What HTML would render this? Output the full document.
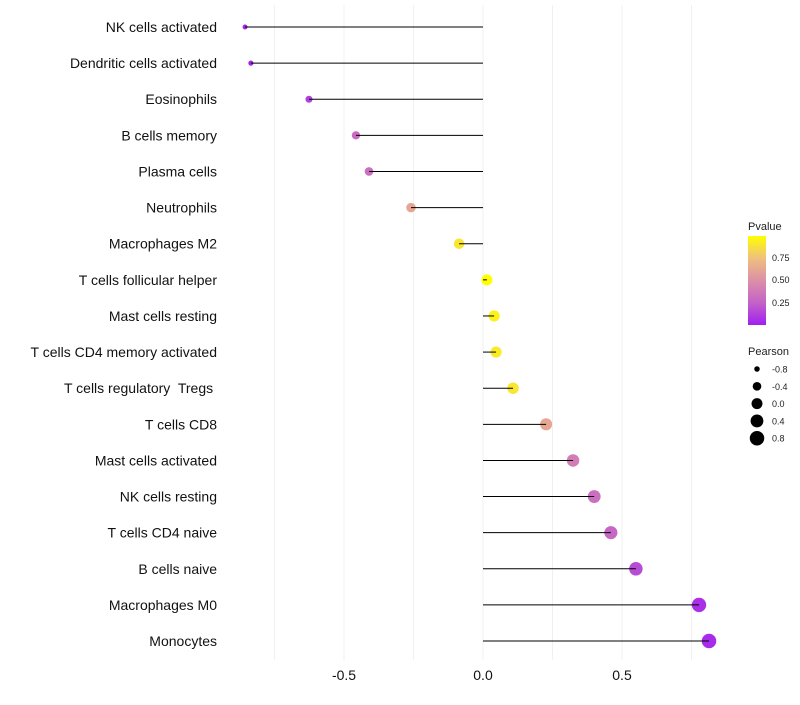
<!DOCTYPE html>
<html><head><meta charset="utf-8"><style>
body{margin:0;background:#fff;font-family:"Liberation Sans",sans-serif}
text{white-space:pre}
</style></head><body>
<svg id="chart" width="800" height="700" xmlns="http://www.w3.org/2000/svg">
<defs><linearGradient id="pg" x1="0" y1="1" x2="0" y2="0">
<stop offset="0" stop-color="#a020f0"/><stop offset="0.25" stop-color="#c462c8"/><stop offset="0.5" stop-color="#dc8fa8"/><stop offset="0.75" stop-color="#efc07e"/><stop offset="1" stop-color="#ffff00"/></linearGradient></defs>
<g id="grid"></g><g id="marks"></g><g id="labels"></g>
<g>
<text x="748" y="230" font-size="11" fill="#222">Pvalue</text>
<rect x="748" y="236" width="18" height="89" fill="url(#pg)"/>
<text x="772" y="261" font-size="9" fill="#222">0.75</text>
<text x="772" y="283" font-size="9" fill="#222">0.50</text>
<text x="772" y="306" font-size="9" fill="#222">0.25</text>
</g>
<g id="sizeLegend">
<text x="748" y="355" font-size="11" fill="#222">Pearson</text>
</g>
</svg>
<script>
const categories=["NK cells activated","Dendritic cells activated","Eosinophils","B cells memory","Plasma cells","Neutrophils","Macrophages M2","T cells follicular helper","Mast cells resting","T cells CD4 memory activated","T cells regulatory  Tregs ","T cells CD8","Mast cells activated","NK cells resting","T cells CD4 naive","B cells naive","Macrophages M0","Monocytes"];
const pearson=[-0.856,-0.835,-0.626,-0.457,-0.41,-0.259,-0.086,0.014,0.04,0.047,0.108,0.227,0.324,0.4,0.46,0.55,0.777,0.813];
const pvalue=[0.02,0.03,0.12,0.3,0.32,0.62,0.9,1.0,0.95,0.92,0.9,0.62,0.4,0.32,0.27,0.17,0.06,0.04];
const xTicks=[-0.5,0,0.5];
const xTickLabels=["-0.5","0.0","0.5"];
const gridVals=[-0.75,-0.5,-0.25,0,0.25,0.5,0.75];
const sizeLegend=[-0.8,-0.4,0.0,0.4,0.8];
const NS="http://www.w3.org/2000/svg";
const x=v=>483+v*278;
const y=i=>27+i*36.12;
const r=v=>Math.sqrt(Math.max(1,30+28*v));
function lerp(a,b,t){return a+(b-a)*t}
const stops=[[0,[160,32,240]],[0.25,[196,98,200]],[0.5,[220,143,168]],[0.75,[239,192,126]],[1,[255,255,0]]];
function col(p){for(let k=0;k<stops.length-1;k++){const [a,ca]=stops[k],[b,cb]=stops[k+1];if(p<=b){const t=(p-a)/(b-a);return `rgb(${ca.map((c,j)=>Math.round(lerp(c,cb[j],t))).join(',')})`}}return 'rgb(255,255,0)'}
function mk(t,at,parent){const e=document.createElementNS(NS,t);for(const k in at)e.setAttribute(k,at[k]);document.getElementById(parent).appendChild(e);return e}
gridVals.forEach(g=>{const l=mk('line',{x1:x(g),x2:x(g),y1:5,y2:660,stroke:'#f0f0f0','stroke-width':1},'grid');

});
categories.forEach((c,i)=>{
const cc=mk('circle',{cx:x(pearson[i]),cy:y(i),r:r(pearson[i]),fill:col(pvalue[i])},'marks');


const l=mk('line',{x1:x(0),x2:x(pearson[i]),y1:y(i),y2:y(i),stroke:'#000','stroke-width':1},'marks');


const t=mk('text',{x:217,y:y(i)+5,'text-anchor':'end','font-size':14,fill:'#111'},'labels');t.textContent=c;


});
xTicks.forEach((v,i)=>{const t=mk('text',{x:x(v),y:680,'text-anchor':'middle','font-size':14,fill:'#111'},'labels');t.textContent=xTickLabels[i];

});
sizeLegend.forEach((v,i)=>{const yy=369+i*17.3;
const c=mk('circle',{cx:757,cy:yy,r:r(v),fill:'#000'},'sizeLegend');


const t=mk('text',{x:772,y:yy+3.5,'font-size':9,fill:'#222'},'sizeLegend');t.textContent=v.toFixed(1);

});
</script>
</body></html>
